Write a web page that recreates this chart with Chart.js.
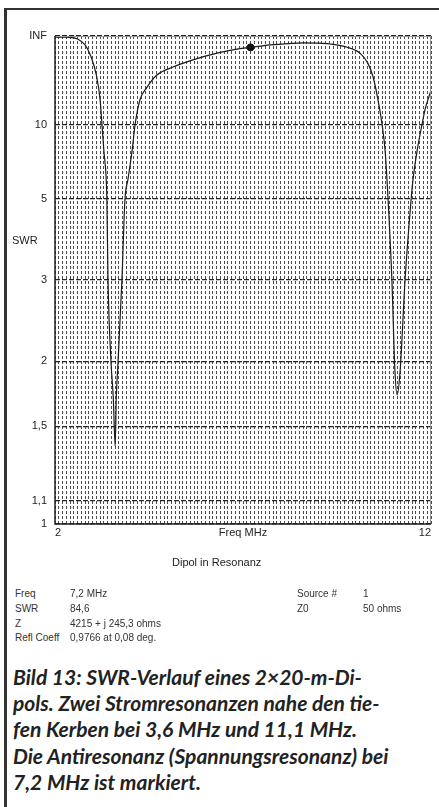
<!DOCTYPE html>
<html>
<head>
<meta charset="utf-8">
<script src="https://cdn.jsdelivr.net/npm/chart.js@4/dist/chart.umd.min.js"></script>
<style>
  html, body { margin: 0; padding: 0; background: #fff; }
  body { width: 439px; height: 807px; position: relative; overflow: hidden; font-family: 'Liberation Sans', Arial, sans-serif; color: #222; }
  #wrap { position: absolute; left: 0; top: 0; width: 439px; height: 580px; }
  .frame-top { position: absolute; left: 4px; top: 8px; width: 435px; height: 2px; background: #333; }
  .frame-left { position: absolute; left: 4px; top: 8px; width: 3px; height: 799px; background: #333; }
  .lbl { position: absolute; font-size: 11px; white-space: nowrap; }
  .info { position: absolute; font-size: 10px; color: #333; white-space: nowrap; line-height: 14.8px; }
  .caption { position: absolute; left: 13px; top: 664px; width: 426px; font-family: Lato, 'Open Sans', sans-serif; font-weight: bold; font-style: italic; font-size: 21px; line-height: 26.2px; color: #222; white-space: nowrap; }
</style>
</head>
<body>
<div class="frame-top"></div>
<div class="frame-left"></div>
<div id="wrap"><canvas id="swrChart" width="439" height="580"></canvas></div>
<div class="lbl" style="left:12px; top:234px;">SWR</div>
<div class="lbl" style="left:172px; top:556px;">Dipol in Resonanz</div>
<div class="info" style="left:15px; top:587px;">Freq<br>SWR<br>Z<br>Refl Coeff</div>
<div class="info" style="left:70px; top:587px;">7,2 MHz<br>84,6<br>4215 + j 245,3 ohms<br>0,9766 at 0,08 deg.</div>
<div class="info" style="left:297px; top:587px;">Source #<br>Z0</div>
<div class="info" style="left:363px; top:587px;">1<br>50 ohms</div>
<div class="caption">Bild 13: SWR-Verlauf eines 2×20-m-Di-<br>pols. Zwei Stromresonanzen nahe den tie-<br>fen Kerben bei 3,6 MHz und 11,1 MHz.<br>Die Antiresonanz (Spannungsresonanz) bei<br>7,2 MHz ist markiert.</div>
<script>
const freqMHz = [2.0, 2.2, 2.4, 2.6, 2.8, 2.95, 3.1, 3.2, 3.25, 3.3, 3.36, 3.38, 3.41, 3.49, 3.55, 3.6, 3.63, 3.67,
    3.78, 3.86, 3.94, 4.05, 4.13, 4.26, 4.45, 4.71, 5.14, 5.67, 6.31, 6.8, 7.2, 7.72, 8.2, 8.6, 9.0, 9.31, 9.77,
    10.11, 10.32, 10.46, 10.59, 10.7, 10.78, 10.83, 10.86, 10.96, 11.04, 11.1, 11.18, 11.31, 11.47, 11.52, 11.63,
    11.76, 11.84, 12.0];
const swrValues = [950, 900, 700, 330, 108, 48, 24, 14.3, 10, 7.5, 5.9, 4.95, 3.0, 1.99, 1.7, 1.38, 1.7, 1.95,
    3.0, 4.95, 5.8, 7.5, 10, 14.3, 18.1, 24, 30.5, 40, 56, 72, 84.6, 108, 128, 139, 135, 121, 86,
    56, 35, 22.8, 14.3, 10, 7.5, 5.78, 4.95, 3.0, 1.92, 1.72, 1.92, 3.0, 4.95, 5.78, 7.5,
    10, 12.2, 17];

const markerFreq = 7.2;
const markerSwr = 84.6;

// SWR tick marks on the reflection-coefficient scale
const swrTicks = [1, 1.1, 1.5, 2, 3, 5, 10, Infinity];
const swrTickLabels = ["1", "1,1", "1,5", "2", "3", "5", "10", "INF"];

const freqMin = 2;
const freqMax = 12;
const freqLabels = { 2: "2", 7: "Freq MHz", 12: "12" };

function toRho(swr) {
    if (!isFinite(swr)) return 1;
    return (swr - 1) / (swr + 1);
}

const frame = {
    id: "frame",
    afterDraw(chart) {
        const { ctx, chartArea: a } = chart;
        ctx.save();
        ctx.strokeStyle = "#999";
        ctx.lineWidth = 1;
        ctx.beginPath();
        ctx.moveTo(a.left, a.top + 0.5);
        ctx.lineTo(a.right - 0.5, a.top + 0.5);
        ctx.lineTo(a.right - 0.5, a.bottom);
        ctx.stroke();
        ctx.strokeStyle = "#222";
        ctx.lineWidth = 1.5;
        ctx.beginPath();
        ctx.moveTo(a.left, a.top);
        ctx.lineTo(a.left, a.bottom);
        ctx.lineTo(a.right, a.bottom);
        ctx.stroke();
        ctx.restore();
    }
};

const ctx = document.getElementById("swrChart").getContext("2d");
new Chart(ctx, {
    type: "line",
    data: {
        datasets: [
            {
                data: freqMHz.map((f, i) => ({ x: f, y: toRho(swrValues[i]) })),
                borderColor: "#1a1a1a",
                borderWidth: 1.2,
                pointRadius: 0,
                cubicInterpolationMode: "monotone",
                fill: false
            },
            {
                data: [{ x: markerFreq, y: toRho(markerSwr) }],
                showLine: false,
                pointRadius: 3.5,
                pointBackgroundColor: "#111",
                pointBorderColor: "#111"
            }
        ]
    },
    options: {
        responsive: false,
        animation: false,
        events: [],
        layout: { padding: { top: 36, right: 8, left: 0, bottom: 0 } },
        plugins: { legend: { display: false }, tooltip: { enabled: false } },
        scales: {
            x: {
                type: "linear",
                min: freqMin,
                max: freqMax,
                afterBuildTicks(scale) {
                    const t = [];
                    for (let i = 0; i <= 100; i++) t.push({ value: Math.round((freqMin + i * 0.1) * 10) / 10 });
                    scale.ticks = t;
                },
                afterFit(scale) { scale.height = 56; },
                ticks: {
                    autoSkip: false,
                    maxRotation: 0,
                    align: "inner",
                    padding: 2,
                    color: "#222",
                    font: { size: 11, family: "'Liberation Sans', Arial, sans-serif" },
                    callback: v => freqLabels[v] || ""
                },
                grid: { color: "#4a4a4a", lineWidth: 1, drawTicks: false },
                border: { display: false, dash: [3, 2] }
            },
            y: {
                type: "linear",
                min: 0,
                max: 1,
                afterBuildTicks(scale) {
                    scale.ticks = swrTicks.map(s => ({ value: toRho(s) }));
                },
                afterFit(scale) { scale.width = 55; },
                ticks: {
                    padding: 8,
                    color: "#222",
                    font: { size: 11, family: "'Liberation Sans', Arial, sans-serif" },
                    callback: (v, i) => swrTickLabels[i]
                },
                grid: { color: "#222", lineWidth: 1.3, drawTicks: false },
                border: { display: false, dash: [5, 2] }
            }
        }
    },
    plugins: [frame]
});
</script>
</body>
</html>
